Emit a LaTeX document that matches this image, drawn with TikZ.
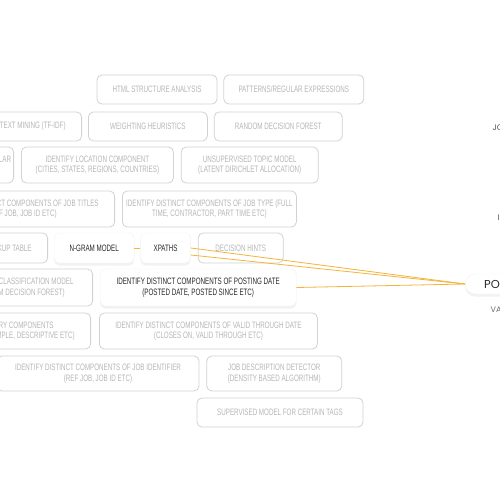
\documentclass[tikz,border=0pt]{standalone}
\usepackage{fontspec}
\newfontfamily\boxfont[FakeStretch=0.67]{Liberation Sans}
\newfontfamily\rootfont{Poppins}
\usetikzlibrary{positioning,shadows}
\definecolor{boxline}{RGB}{210,210,210}
\definecolor{boxtext}{RGB}{182,182,182}
\definecolor{darktext}{RGB}{40,40,40}
\definecolor{sidetext}{RGB}{110,110,110}
\definecolor{linkorange}{RGB}{246,178,58}
\tikzstyle{gbox}=[rectangle, rounded corners=5pt, draw=boxline, line width=0.8pt,
                  fill=white, text=boxtext, align=center, inner sep=0pt,
                  font=\boxfont\fontsize{9.3}{10.5}\selectfont]
\tikzstyle{cbox}=[gbox, anchor=east, text width=160pt, align=flush right, inner xsep=16pt]
\tikzstyle{wbox}=[rectangle, rounded corners=5pt, fill=white, draw=black!5, line width=0.4pt,
                  text=darktext, align=center, inner sep=0pt,
                  font=\boxfont\fontsize{9.3}{10.5}\selectfont,
                  drop shadow={shadow xshift=0pt, shadow yshift=-2.5pt, opacity=0.10}]
\tikzstyle{sidelabel}=[anchor=west, inner sep=0pt, text=sidetext, font=\rootfont\fontsize{8}{9}\selectfont]
\tikzstyle{pline}=[-, line width=0.8pt, draw=linkorange]
\begin{document}
\begin{tikzpicture}[x=1pt, y=-1pt]
\useasboundingbox (0,0) rectangle (500,500);
\fill[white] (0,0) rectangle (500,500);
\clip (0,0) rectangle (500,500);

% row 1
\node (HTML) [gbox, minimum width=120pt, minimum height=29pt] at (157,89.5) {HTML STRUCTURE ANALYSIS};
\node (PATTERNS) [gbox, minimum width=140pt, minimum height=29pt, right=6pt of HTML] {PATTERNS/REGULAR EXPRESSIONS};

% row 2
\node (TEXTMINING) [cbox, minimum height=29pt] at (82,126.5) {TEXT MINING (TF-IDF)};
\node (WEIGHTING) [gbox, minimum width=119pt, minimum height=29pt, right=6pt of TEXTMINING] {WEIGHTING HEURISTICS};
\node (RANDOMFOREST) [gbox, minimum width=128pt, minimum height=29pt, right=6pt of WEIGHTING] {RANDOM DECISION FOREST};

% row 3
\node (LAR) [cbox, inner xsep=2.5pt, minimum height=36pt] at (14,165) {LAR\\\mbox{}};
\node (LOCATION) [gbox, minimum width=152pt, minimum height=36pt, right=7pt of LAR] {IDENTIFY LOCATION COMPONENT\\(CITIES, STATES, REGIONS, COUNTRIES)};
\node (TOPICMODEL) [gbox, minimum width=137pt, minimum height=36pt, right=7pt of LOCATION] {UNSUPERVISED TOPIC MODEL\\(LATENT DIRICHLET ALLOCATION)};

% row 4
\node (JOBTITLES) [cbox, minimum height=36pt] at (115,209) {CT COMPONENTS OF JOB TITLES\\EF JOB, JOB ID ETC)\kern42pt};
\node (JOBTYPE) [gbox, minimum width=174pt, minimum height=36pt, right=7pt of JOBTITLES] {IDENTIFY DISTINCT COMPONENTS OF JOB TYPE (FULL\\TIME, CONTRACTOR, PART TIME ETC)};

% row 5
\node (LOOKUP) [cbox, minimum height=30pt] at (48,248) {KUP TABLE};
\node (NGRAM) [wbox, minimum width=80pt, minimum height=30pt, right=6pt of LOOKUP] {N-GRAM MODEL};
\node (XPATHS) [wbox, minimum width=50pt, minimum height=30pt, right=6pt of NGRAM] {XPATHS};
\node (HINTS) [gbox, minimum width=85pt, minimum height=30pt, right=7pt of XPATHS] {DECISION HINTS};

% row 6
\node (CLASSIF) [cbox, minimum height=37pt] at (93,287.5) {CLASSIFICATION MODEL\kern3pt\\M DECISION FOREST)\kern12pt};
\node (POSTING) [wbox, minimum width=196pt, minimum height=37pt, right=7pt of CLASSIF] {IDENTIFY DISTINCT COMPONENTS OF POSTING DATE\\(POSTED DATE, POSTED SINCE ETC)};

% row 7
\node (SALARY) [cbox, minimum height=36pt] at (91,331) {RY COMPONENTS\kern21pt\\MPLE, DESCRIPTIVE ETC)};
\node (VALIDDATE) [gbox, minimum width=218pt, minimum height=36pt, right=8pt of SALARY] {IDENTIFY DISTINCT COMPONENTS OF VALID THROUGH DATE\\(CLOSES ON, VALID THROUGH ETC)};

% row 8
\node (JOBID) [gbox, minimum width=202pt, minimum height=35pt] at (98,373.5) {IDENTIFY DISTINCT COMPONENTS OF JOB IDENTIFIER\\(REF JOB, JOB ID ETC)};
\node (JOBDESC) [gbox, minimum width=135pt, minimum height=35pt, right=7pt of JOBID] {JOB DESCRIPTION DETECTOR\\(DENSITY BASED ALGORITHM)};

% row 9
\node (SUPERVISED) [gbox, minimum width=166pt, minimum height=29pt] at (280,412.5) {SUPERVISED MODEL FOR CERTAIN TAGS};

% right side
\node (ROOT) [wbox, rounded corners=10pt, anchor=west, text width=60pt, align=flush left,
  inner xsep=19pt, minimum height=20pt, font=\rootfont\fontsize{11.5}{13}\selectfont] at (465,284) {PO};
\node (VALABEL) [sidelabel] at (490.5,310) {VA};
\node (JOLABEL) [sidelabel, text=darktext!80] at (492.5,128) {JO};
\node (ILABEL) [sidelabel, text=darktext!80] at (497.5,218) {I};

\draw[pline] (NGRAM.east) -- (XPATHS.west);
\draw[pline] (XPATHS.east) -- (ROOT.west);
\draw[pline] ([yshift=-7pt]XPATHS.east) -- (ROOT.west);
\draw[pline] (POSTING.east) -- (ROOT.west);

\end{tikzpicture}
\end{document}
